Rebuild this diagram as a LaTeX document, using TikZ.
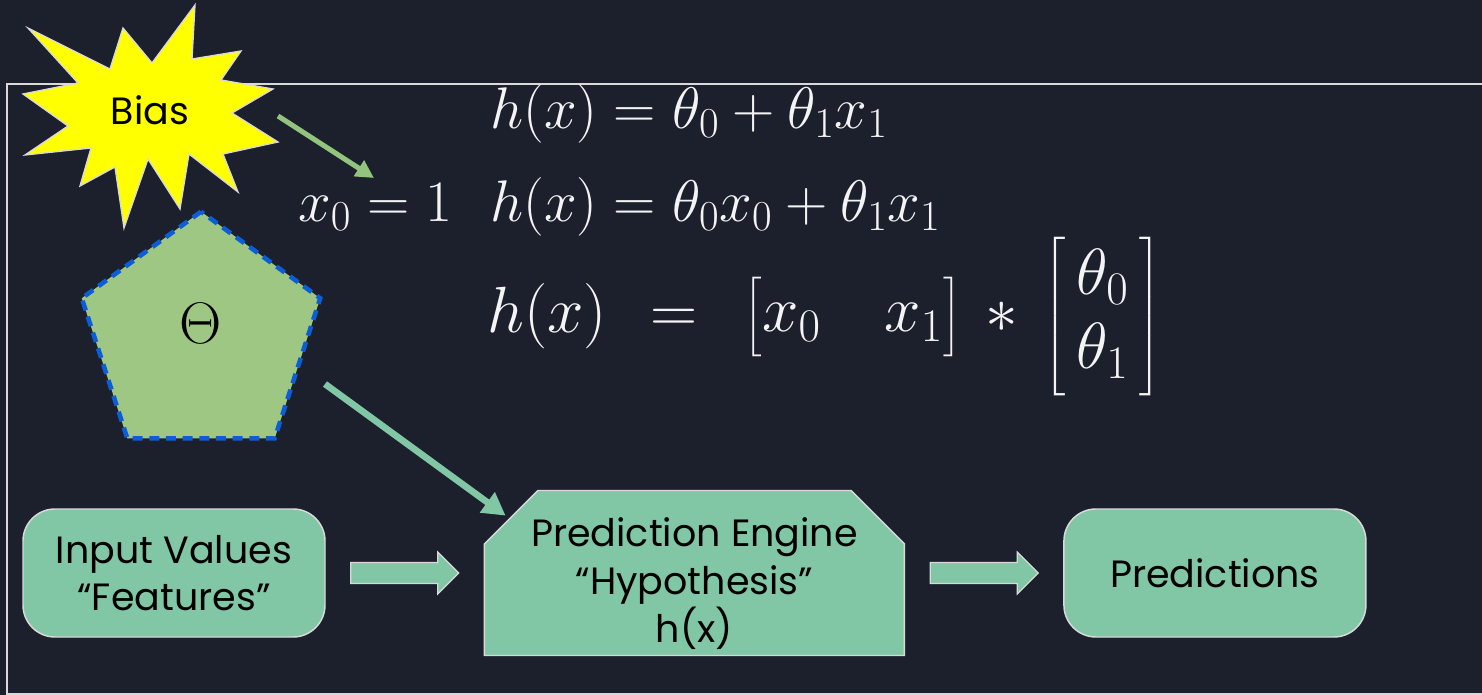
\RequirePackage{fix-cm}
\documentclass[tikz,border=0pt]{standalone}
\usepackage{amsmath}
\usepackage[no-math]{fontspec}
\setmainfont{Poppins}
\usetikzlibrary{positioning,arrows.meta,calc,shapes.geometric,shapes.misc}

\DeclareMathSizes{44}{44}{32}{24}
\DeclareMathSizes{49}{49}{35}{27}

\definecolor{bgdark}{HTML}{1B202C}
\definecolor{boxgreen}{HTML}{82C7A5}
\definecolor{boxline}{HTML}{D9D9D9}
\definecolor{pentafill}{HTML}{9EC784}
\definecolor{pentaline}{HTML}{0B5ED7}
\definecolor{biasgreen}{HTML}{93C47D}
\definecolor{mathwhite}{HTML}{F4F4F4}
\definecolor{starfill}{HTML}{FFFF00}

\tikzset{
  blockarrow/.pic={
    \draw[draw=boxline, line width=0.9pt, fill=boxgreen]
      (-54,-10.5) -- (33,-10.5) -- (33,-21) -- (54,0) -- (33,21) -- (33,10.5) -- (-54,10.5) -- cycle;
  }
}

\begin{document}
\begin{tikzpicture}[x=0.75pt, y=-0.75pt,
    box/.style={draw=boxline, line width=1.1pt, fill=boxgreen, rounded corners=24pt,
                minimum width=226.5pt, minimum height=96pt, inner sep=0pt,
                align=center, font=\fontsize{28.5}{35}\selectfont},
    enginebox/.style={chamfered rectangle, chamfered rectangle corners={north west,north east},
                chamfered rectangle xsep=20pt, chamfered rectangle ysep=20pt,
                draw=boxline, line width=1.1pt, fill=boxgreen,
                minimum width=315pt, minimum height=123.75pt, inner xsep=0pt, inner ysep=-20pt,
                align=center, font=\fontsize{28.5}{36}\selectfont},
    penta/.style={regular polygon, regular polygon sides=5, minimum size=188pt, inner sep=0pt,
                fill=pentafill, draw=pentaline, line width=3.4pt, dash pattern=on 7.5pt off 5pt,
                font=\fontsize{44}{50}\selectfont},
    eqn/.style={text=mathwhite, anchor=base west, inner sep=0pt, font=\fontsize{44}{50}\selectfont},
    biasarr/.style={biasgreen, line width=3.8pt, -{Triangle[length=13.5pt,width=13.5pt]}},
    thetaarr/.style={boxgreen, line width=5pt, -{Triangle[length=17pt,width=18pt]}}]
  % background and frame
  \fill[bgdark] (0,0) rectangle (1482,695);
  \useasboundingbox (0,0) rectangle (1482,695);
  \draw[boxline, line width=1.5pt] (7,84) rectangle (1500,694);
  % bias explosion
  \draw[boxline, line width=1pt, fill=starfill, line join=miter]
    (195,5) -- (192,59) -- (241,51) -- (221,80) -- (273,89) -- (232,113)
    -- (278,142) -- (223,154) -- (238,192) -- (189,154) -- (180,209) -- (148,159)
    -- (124,228) -- (115,167) -- (80,186) -- (91,148) -- (25,155) -- (68,126)
    -- (23,94) -- (78,83) -- (28,28) -- (110,69) -- (123,28) -- (152,63) -- cycle;
  \node[font=\fontsize{28.5}{35}\selectfont] (bias) at (150,110) {Bias};
  % parameters
  \node[penta] (theta) at (201,337) {\raisebox{21pt}{$\Theta$}};
  % equations
  \node[eqn] (hone) at (490,129) {$h(x) = \theta_0 + \theta_1 x_1$};
  \node[eqn] (xzero) at (298,222) {$x_0 = 1$};
  \node[eqn] (htwo) at (490,222) {$h(x) = \theta_0 x_0 + \theta_1 x_1$};
  \node[eqn, font=\fontsize{49}{56}\selectfont] (hthree) at (487,333)
    {$\setlength{\arraycolsep}{24pt}h(x)\hspace{19pt}=\hspace{22pt}\begin{bmatrix} x_0 & x_1 \end{bmatrix}
      \hspace{8pt}*\hspace{8pt}\begin{bmatrix} \,\theta_0\, \\ \,\theta_1\, \end{bmatrix}$};
  % flow boxes
  \node[box] (input) at (174,573) {Input Values\\“Features”};
  \node[enginebox, right=118.5pt of input] (engine)
    {\rule{0pt}{37.5pt}Prediction Engine\\“Hypothesis”\\h(x)};
  \node[box, right=118.5pt of engine] (pred) {Predictions};
  \pic at ($(input.east)!0.5!(engine.west)$) {blockarrow};
  \pic at ($(engine.east)!0.5!(pred.west)$) {blockarrow};
  % arrows
  \coordinate (biasout) at (278,116);
  \coordinate (xzerotip) at (374,178);
  \draw[biasarr] (biasout) -- (xzerotip);
  \draw[thetaarr] ($(theta.center)+(124,47)$) -- ($(engine.north west)+(-5,-1)$);
\end{tikzpicture}
\end{document}
